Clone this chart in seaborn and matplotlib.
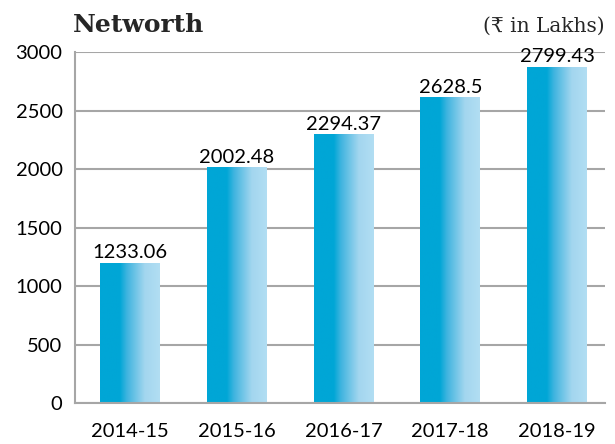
import numpy as np
import pandas as pd
import matplotlib.pyplot as plt
import seaborn as sns
from matplotlib.colors import LinearSegmentedColormap

# ── Data ───────────────────────────────────────────────────────────────────────
years = ['2014-15', '2015-16', '2016-17', '2017-18', '2018-19']
bar_heights = [1203, 2020, 2304, 2620, 2879]       # bar tops as drawn in the chart
value_labels = ['1233.06', '2002.48', '2294.37', '2628.5', '2799.43']
y_ticks = [0, 500, 1000, 1500, 2000, 2500, 3000]

# ── Style ──────────────────────────────────────────────────────────────────────
sns.set_theme(style='white')
plt.rcParams['font.family'] = ['Lato', 'DejaVu Sans']
GRID = '#a6a6a6'

df = pd.DataFrame({'Year': years, 'Networth': bar_heights})

fig = plt.figure(figsize=(6.15, 4.44), dpi=100)
ax = fig.add_axes([0.122, 0.0917, 0.8617, 0.7901])

sns.barplot(data=df, x='Year', y='Networth', width=0.56, color='#00a6d6', ax=ax)

# horizontal gradient fill for each bar
grad = LinearSegmentedColormap.from_list('bar', [
    (0.00, '#00a6d6'), (0.33, '#00a6d6'), (0.45, '#3fb4df'),
    (0.75, '#a3d6ef'), (1.00, '#b2def3')])
strip = np.linspace(0, 1, 256).reshape(1, -1)
for p in ax.patches:
    x0, y0 = p.get_x(), p.get_y()
    w, h = p.get_width(), p.get_height()
    im = ax.imshow(strip, cmap=grad, aspect='auto', interpolation='bilinear',
                   extent=(x0, x0 + w, y0, y0 + h), zorder=p.get_zorder())
    im.set_clip_path(p)
    p.set_facecolor('none')
    p.set_edgecolor('none')

# value labels on top of the bars
for p, txt in zip(ax.patches, value_labels):
    ax.annotate(txt, (p.get_x() + p.get_width() / 2, p.get_height()),
                xytext=(0, 3), textcoords='offset points',
                ha='center', va='baseline', fontsize=14.5, color='black')

ax.set_xlim(-0.514, 4.449)
ax.set_ylim(0, 3000)
ax.set_yticks(y_ticks)
ax.set_xlabel('')
ax.set_ylabel('')
ax.yaxis.grid(True, color=GRID, linewidth=1.5)
ax.set_axisbelow(True)
for side in ['top', 'right']:
    ax.spines[side].set_visible(False)
for side in ['left', 'bottom']:
    ax.spines[side].set_color(GRID)
    ax.spines[side].set_linewidth(1.5)
ax.tick_params(axis='both', length=0, labelsize=14.5, labelcolor='black')
ax.tick_params(axis='x', pad=14)
ax.tick_params(axis='y', pad=9)

fig.text(73 / 615, 1 - 31.7 / 444, 'Networth', family='DejaVu Serif',
         weight='bold', size=18, ha='left', va='baseline')
fig.text(605 / 615, 1 - 31.7 / 444, '(₹ in Lakhs)',
         family=['DejaVu Serif', 'DejaVu Sans'], size=14.5,
         ha='right', va='baseline')

fig.savefig('out.png', dpi=100)
